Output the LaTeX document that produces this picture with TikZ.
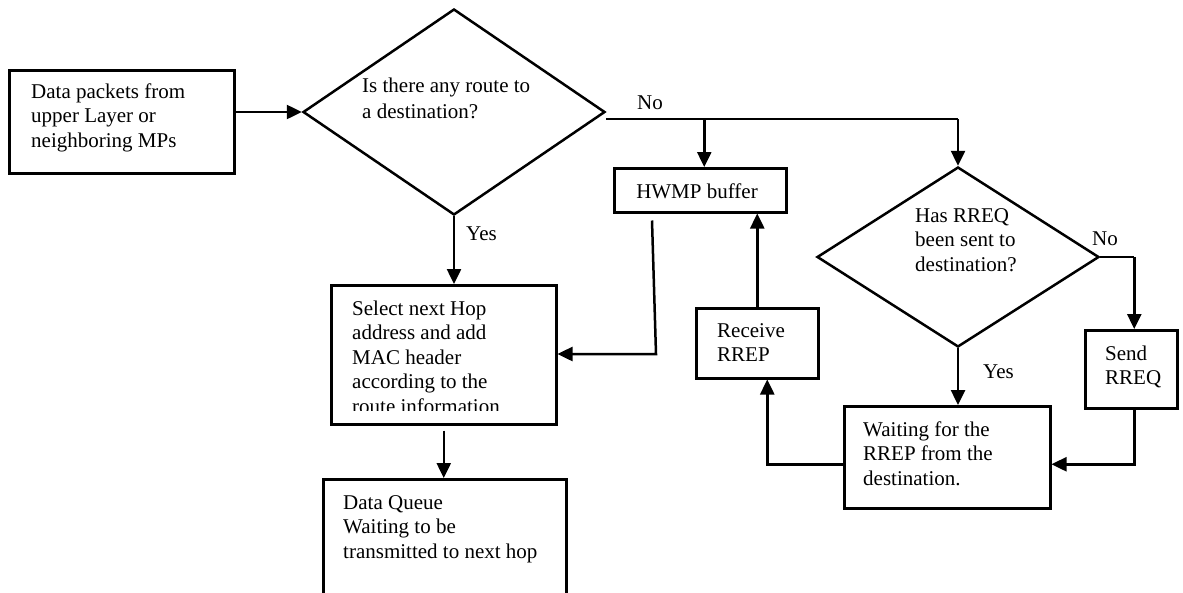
\documentclass[tikz,border=0pt]{standalone}
\usepackage{fontspec}
\setmainfont{Liberation Serif}
\usetikzlibrary{shapes.geometric,arrows.meta,calc}
% left-aligned block whose baseline is that of its first line
\newcommand\txtblock[1]{\parbox[t]{300pt}{\raggedright #1}}

\begin{document}
\begin{tikzpicture}[x=1pt,y=-1pt,
  box/.style={draw,line width=2.5pt,rectangle,inner sep=0pt,anchor=north west},
  decision/.style={draw,line width=2.5pt,diamond,inner sep=0pt},
  lbl/.style={anchor=base west,inner sep=0pt,font=\fontsize{21}{24.5}\selectfont},
  flow/.style={line width=2.5pt,-{Triangle[length=15pt,width=14pt]}},
  link/.style={line width=2.5pt},
]
\useasboundingbox (0,0) rectangle (1183,592);
\clip (0,0) rectangle (1183,592);

% boxes
\node[box,minimum width=225pt,minimum height=103pt] (src)    at (8,69)    {};
\node[box,minimum width=225pt,minimum height=139pt] (select) at (330,284) {};
\node[box,minimum width=243pt,minimum height=150pt] (queue)  at (322,478) {};
\node[box,minimum width=172pt,minimum height=44pt]  (hwmp)   at (613,167) {};
\node[box,minimum width=122pt,minimum height=70pt]  (recv)   at (695,307) {};
\node[box,minimum width=206pt,minimum height=102pt] (wait)   at (843,405) {};
\node[box,minimum width=92pt,minimum height=78pt]   (send)   at (1084,329) {};

% decisions
\node[decision,minimum width=302pt,minimum height=206pt] (route) at (454,112) {};
\node[decision,minimum width=282pt,minimum height=180pt] (sent)  at (958,257) {};

% texts
\node[lbl] (srct) at (31,98) {\txtblock{Data packets from\\upper Layer or\\neighboring MPs}};
\node[lbl] (routet) at (362,92) {\txtblock{Is there any route to\\[1.5pt]a destination?}};
\node[lbl,anchor=base] (hwmpt) at (697,198) {HWMP buffer};
\node[lbl] (sentt) at (915,222) {\txtblock{Has RREQ\\been sent to\\destination?}};
\node[lbl] (recvt) at (717,337) {\txtblock{Receive\\RREP}};
\node[lbl] (sendt) at (1105,360) {\txtblock{Send\\RREQ}};
\node[lbl] (waitt) at (863,436) {\txtblock{Waiting for the\\RREP from the\\destination.}};
\node[lbl] (queuet) at (343,509) {\txtblock{Data Queue\\Waiting to be\\transmitted to next hop}};
\begin{scope}
  \clip (330,284) rectangle (555,410);
  \node[lbl] (selectt) at (352,315) {\txtblock{Select next Hop\\address and add\\MAC header\\according to the\\route information}};
\end{scope}

% branch labels
\node[lbl] (yes1) at (466,240) {Yes};
\node[lbl] (no1)  at (637,109) {No};
\node[lbl] (yes2) at (983,378) {Yes};
\node[lbl] (no2)  at (1092,245) {No};

% connectors
\draw[flow] (src.east |- route.west) -- (route.west);
\draw[flow] (route.south) -- (route.south |- select.north);
\draw[flow] ($(select.south)+(0,5)$) -- (select.south |- queue.north);

\coordinate (nofork) at ($(route.east)+(0,7)$);
\coordinate (hwmpin) at ($(hwmp.north)+(4,0)$);
\draw[link] (nofork) -- (sent.north |- nofork);
\draw[flow] (sent.north |- nofork) -- (sent.north);
\draw[flow] (hwmpin |- nofork) -- (hwmpin);

\coordinate (hout) at ($(hwmp.south west)+(39,7)$);
\coordinate (hbend) at (656,354);
\draw[flow] (hout) -- (hbend) -- (select.east |- hbend);

\draw[flow] (recv.north) -- (recv.north |- hwmp.south);
\draw[flow] ($(wait.west)+(0,7)$) -| ($(recv.south)+(10,0)$);

\draw[flow] (sent.south) -- (sent.south |- wait.north);
\coordinate (sendin) at ($(send.north)+(3,0)$);
\coordinate (sendout) at ($(send.south)+(3,0)$);
\draw[link] (sent.east) -- (sendin |- sent.east);
\draw[flow] (sendin |- sent.east) -- (sendin);
\draw[flow] (sendout) |- ($(wait.east)+(0,7)$);
\end{tikzpicture}
\end{document}
